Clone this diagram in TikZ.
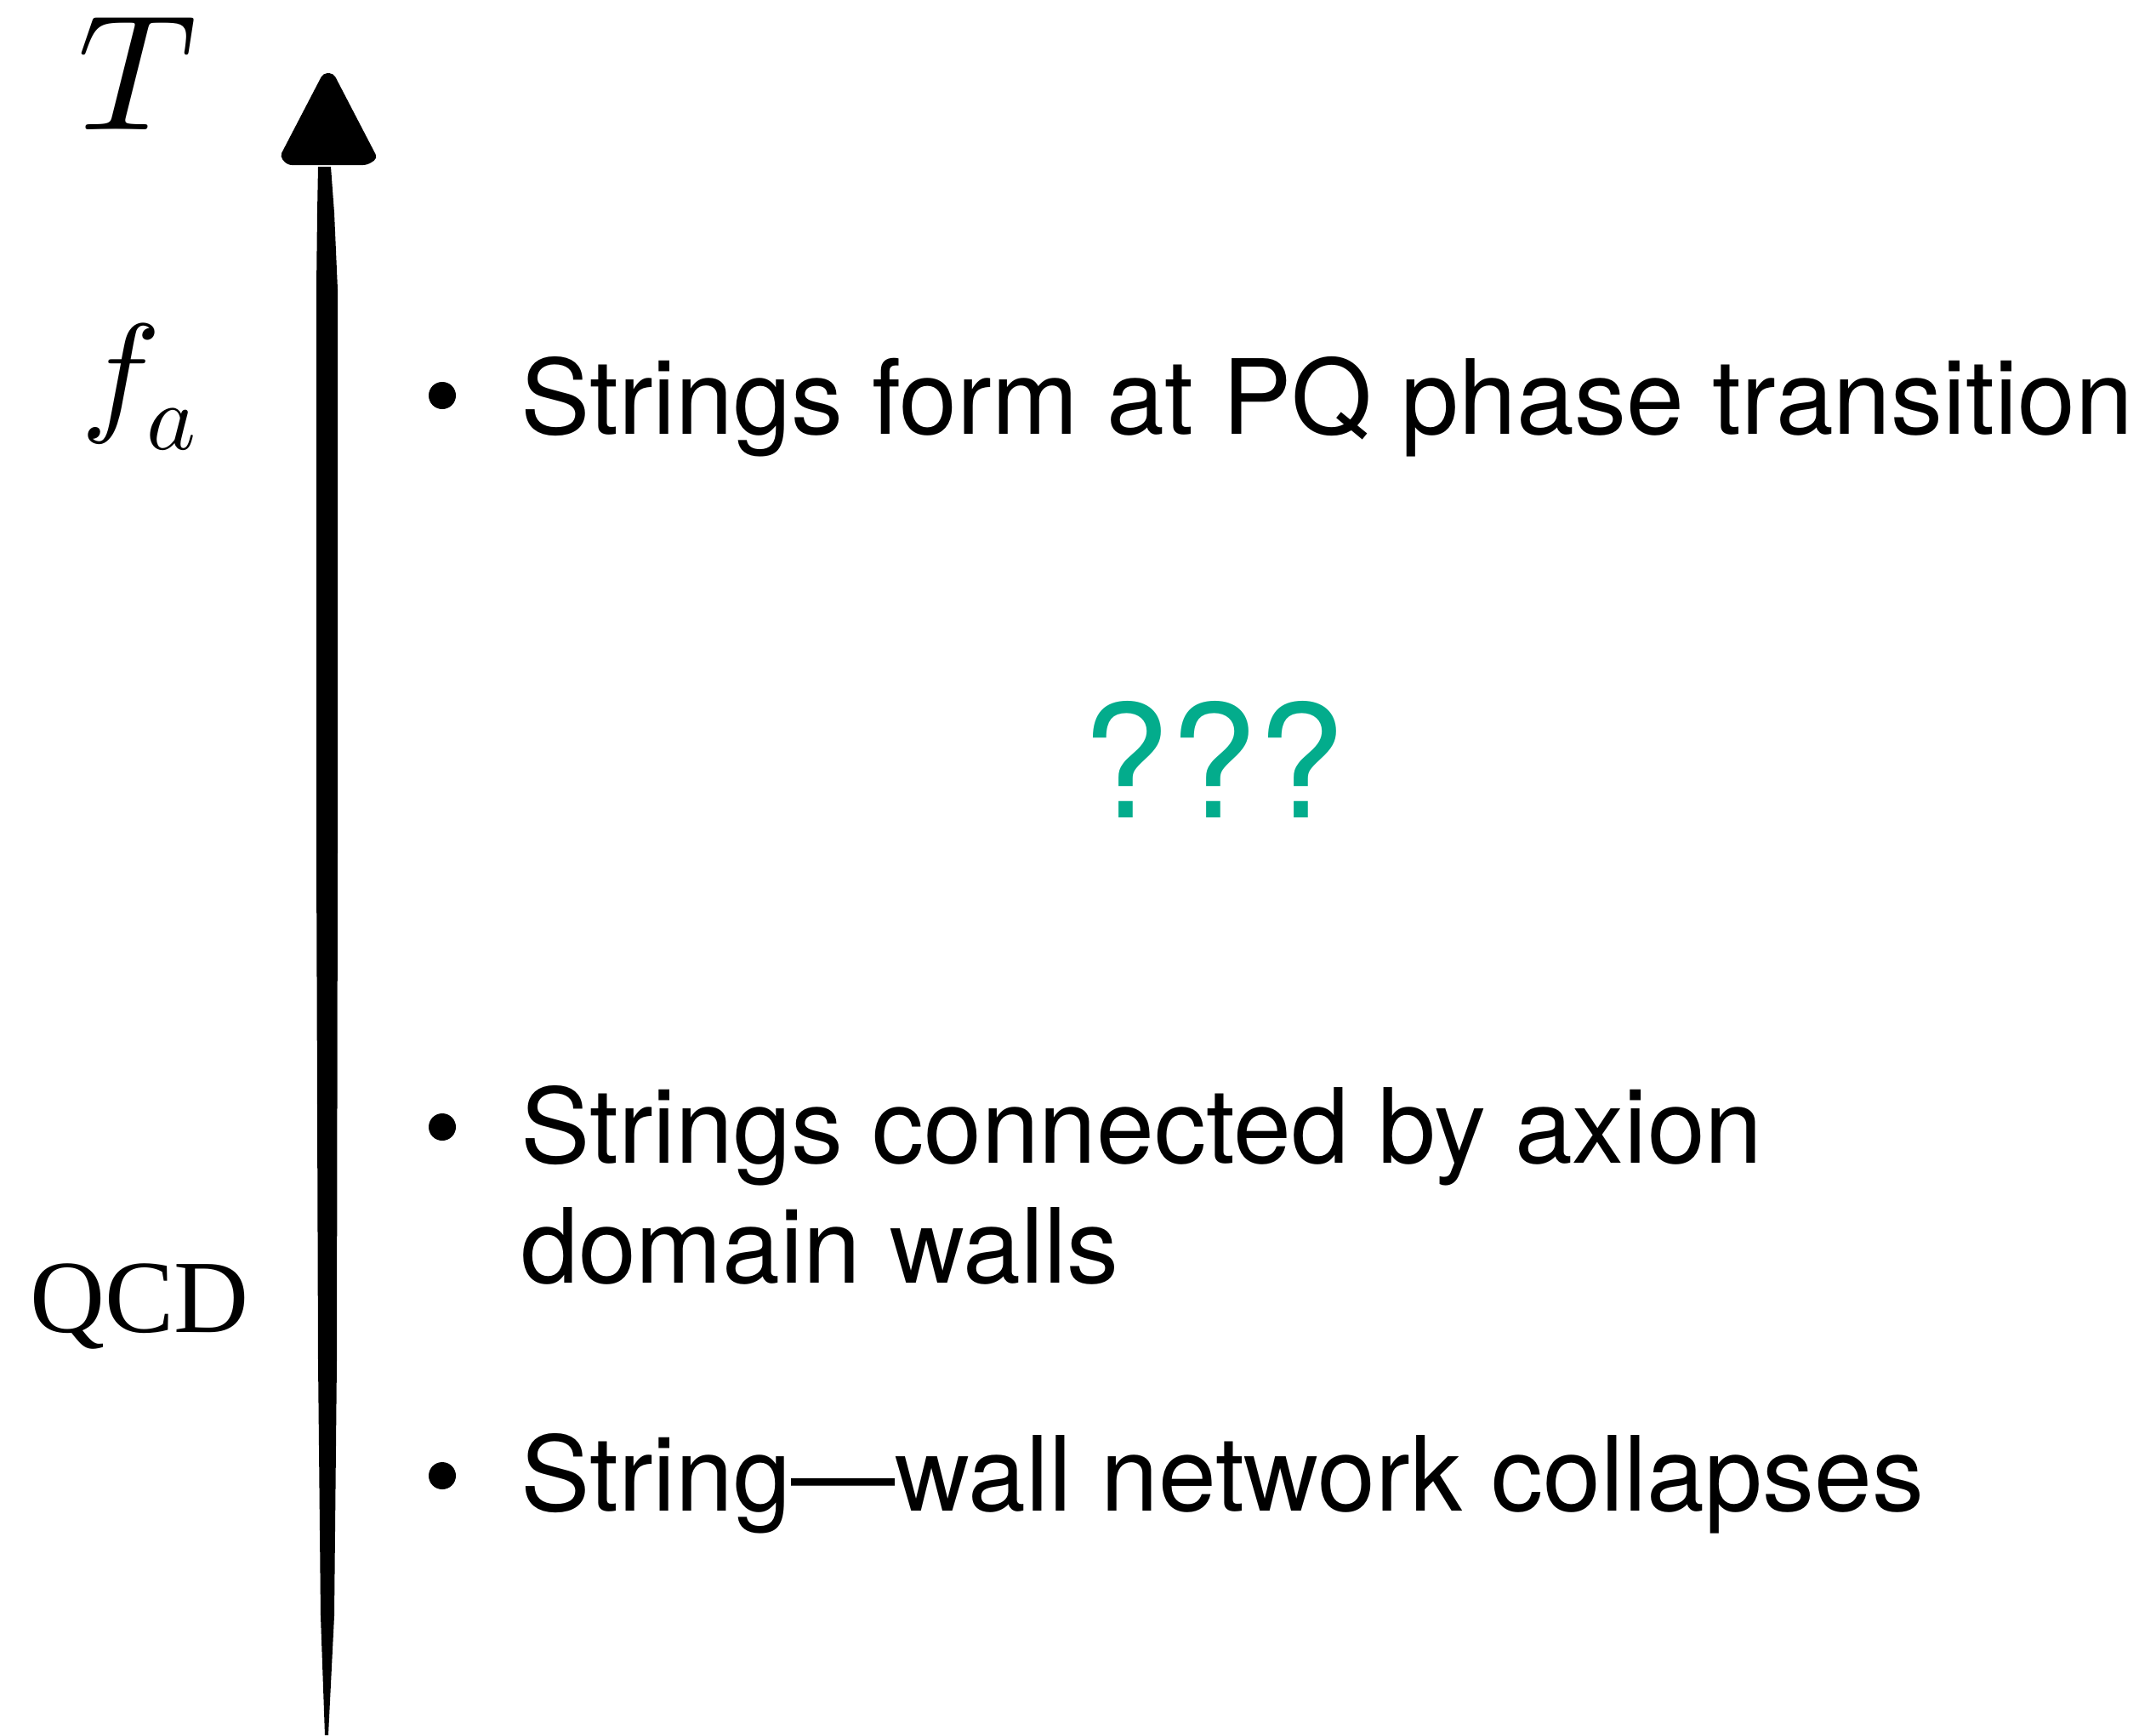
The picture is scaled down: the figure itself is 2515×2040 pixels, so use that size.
\documentclass[tikz,border=0pt]{standalone}
\usepackage{fontspec}
\usepackage{unicode-math}
\setmathfont{Latin Modern Math}
\newfontfamily\helv{TeX Gyre Heros}
\newfontfamily\serifname{Liberation Serif}
\definecolor{qteal}{RGB}{3,172,140}
\begin{document}
\begin{tikzpicture}[x=1pt,y=-1pt,
  axislabel/.style={inner sep=0pt, anchor=base},
  item/.style={inner sep=0pt, anchor=base west, font=\helv\fontsize{122}{140}\selectfont},
  dot/.style={circle, fill=black, inner sep=0pt, minimum size=32pt}]
\useasboundingbox (0,0) rectangle (2515,2040);

% temperature axis: brush-like shaft tapering downwards, with a triangular head
\coordinate (tip) at (386,86);
\coordinate (foot) at (384,2040);
\fill[black] (374,196) -- (373,250) -- (372,340) -- (372,1000) -- (374,1600)
  -- (377,1900) -- (382,2040) -- (386,2040) -- (393,1900) -- (396,1600)
  -- (397,1000) -- (397,340) -- (393,250) -- (389,196) -- cycle;
\fill[black, rounded corners=5pt] ([xshift=-6pt]tip) -- ([xshift=6pt]tip) -- (444,186)
  -- (432,194) -- (338,194) -- (329,184) -- cycle;

% axis labels
\node[axislabel, font=\fontsize{194}{210}\selectfont] (T) at (163,152) {$T$};
\node[axislabel, font=\fontsize{157}{170}\selectfont] (fa) at (163,490) {$f_a$};
\node[axislabel, font=\serifname\fontsize{122}{130}\selectfont] (qcd) at (164,1566) {QCD};

% events along the axis
\node[dot] (b1) at (520,465) {};
\node[item] (e1) at (612,510) {Strings form at PQ phase transition};

\node[font=\helv\fontsize{185}{200}\selectfont, text=qteal, inner sep=0pt, anchor=base] (unknown) at (1427,961) {???};

\node[dot] (b2) at (520,1325) {};
\node[item] (e2a) at (612,1367) {Strings connected by axion};
\node[item] (e2b) at (612,1508) {domain walls};

\node[dot] (b3) at (520,1735) {};
\node[item] (e3) at (612,1776) {String—wall network collapses};
\end{tikzpicture}
\end{document}
